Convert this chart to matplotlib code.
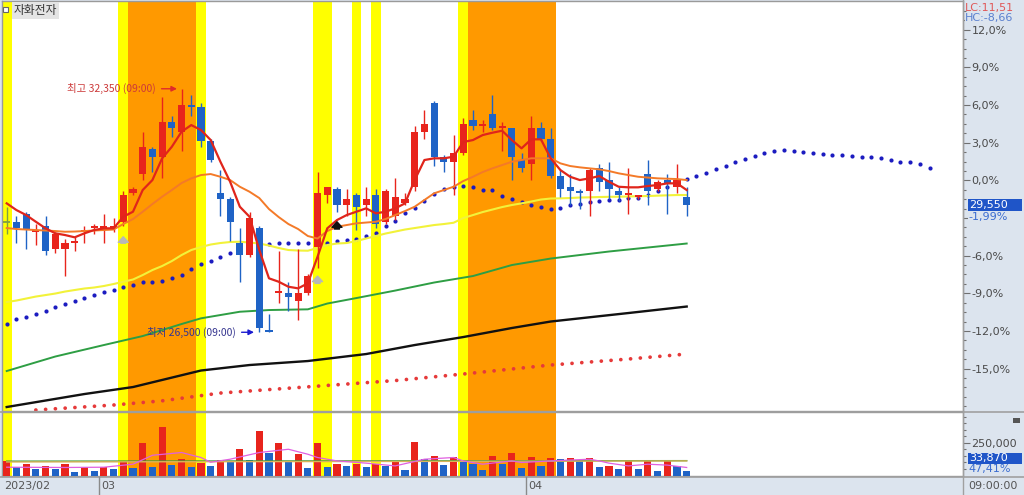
import numpy as np
import matplotlib
matplotlib.use("Agg")
import matplotlib.pyplot as plt
from matplotlib.patches import Rectangle
from matplotlib.lines import Line2D
from matplotlib.ticker import FixedLocator, FuncFormatter

# ---------------- data ----------------
base_price = 30150          # previous close (0.0% line)
last_close_label = "29,550"
last_pct_label = "-1,99%"
last_vol_label = "33,870"
vol_pct_label = "47,41%"
stock_name = "자화전자"
hi_label = "최고 32,350 (09:00)"
lo_label = "최저 26,500 (09:00)"
date_labels = ["2023/02", "03", "04"]
month_start_idx = [10, 54]

opens = [29150, 29150, 29350, 28900, 29050, 28500, 28500, 28650, 28900, 29000,
         28950, 29000, 29150, 29850, 30300, 30900, 30700, 31550, 31300, 31950,
         31900, 31100, 29850, 29700, 28650, 28350, 29000, 26550, 27450, 27450,
         27250, 27450, 28550, 29800, 29950, 29550, 29800, 29550, 29800, 29150,
         29300, 29600, 30000, 31300, 32000, 30700, 30600, 30800, 31600, 31450,
         31750, 31400, 31400, 30650, 30550, 31400, 31150, 30250, 30000, 29900,
         29900, 30450, 30150, 29900, 29800, 29750, 30300, 29950, 30150, 30000,
         29750]
highs = [29500, 29300, 29400, 29100, 29300, 28900, 28750, 28800, 29050, 29100,
         29350, 29250, 29900, 30000, 31300, 30950, 32150, 31700, 32350, 32200,
         32000, 31150, 30400, 29750, 29000, 29400, 29050, 26950, 28450, 27700,
         28500, 27900, 30350, 30000, 30000, 29950, 29850, 30000, 29950, 29950,
         30200, 29850, 31450, 31850, 32050, 30750, 31250, 31650, 31850, 31600,
         32200, 31550, 31400, 30800, 31700, 31550, 31400, 30400, 30300, 29950,
         30450, 30550, 30600, 30000, 30450, 29800, 30650, 30150, 30300, 30550,
         30000]
lows = [28850, 28650, 28500, 28600, 28350, 28400, 27850, 28450, 28650, 28850,
        28650, 28900, 29050, 29800, 30150, 30350, 30200, 31200, 30850, 31700,
        30950, 30600, 29300, 28700, 27700, 28300, 26500, 26500, 27200, 27000,
        26800, 27400, 28050, 29600, 29400, 29300, 28950, 29300, 29000, 29100,
        29200, 29550, 29900, 31150, 30500, 30350, 29800, 30750, 31350, 31300,
        31350, 30850, 30150, 30350, 30150, 31100, 30200, 29750, 29550, 29450,
        29300, 29900, 29700, 29650, 29350, 29700, 29550, 29900, 29350, 29850,
        29300]
closes = [29150, 29000, 28950, 28950, 28450, 28850, 28650, 28700, 28950, 29050,
          29050, 29050, 29800, 29950, 30950, 30700, 31550, 31400, 31950, 31900,
          31100, 30650, 29700, 29150, 28350, 29250, 26600, 26500, 27500, 27350,
          27450, 27850, 29850, 30000, 29550, 29700, 29500, 29700, 29100, 29900,
          29750, 29700, 31300, 31500, 30700, 30600, 30800, 31500, 31450, 31500,
          31400, 31450, 30700, 30450, 31400, 31150, 30250, 29950, 29900, 29850,
          30400, 30100, 29950, 29800, 29850, 29800, 29900, 30100, 30050, 30150,
          29550]

ma_red = [29597, 29436, 29316, 29155, 28997, 28877, 28836, 28781, 28877, 28956,
          28997, 28997, 29275, 29396, 29917, 30157, 30679, 30957, 31318, 31478,
          31358, 31118, 30597, 30116, 29516, 29275, 28476, 27796, 27714, 27594,
          27555, 27676, 28315, 28997, 29196, 29316, 29396, 29477, 29357, 29396,
          29477, 29597, 30157, 30638, 30679, 30679, 30717, 31070, 31118, 31238,
          31294, 31342, 31118, 30919, 31135, 31135, 30679, 30397, 30236, 30157,
          30198, 30253, 30116, 29996, 29982, 29982, 30013, 30037, 30078, 30078,
          29917]
ma_orange = [29004, 28980, 28968, 28956, 28944, 28932, 28915, 28920, 28932, 28944,
             28956, 28968, 29100, 29220, 29396, 29581, 29756, 29917, 30085, 30198,
             30277, 30301, 30236, 30157, 29996, 29876, 29725, 29460, 29268, 29100,
             28980, 28812, 28752, 28932, 29035, 29076, 29117, 29136, 29155, 29220,
             29316, 29412, 29516, 29677, 29838, 29917, 29996, 30133, 30236, 30349,
             30438, 30517, 30597, 30638, 30679, 30679, 30679, 30558, 30494, 30462,
             30438, 30414, 30373, 30318, 30277, 30236, 30217, 30198, 30189, 30181,
             30157]
ma_yellow = [27226, 27262, 27310, 27358, 27394, 27430, 27478, 27515, 27551, 27575,
             27611, 27659, 27714, 27767, 27875, 27995, 28091, 28211, 28355, 28476,
             28548, 28608, 28644, 28668, 28675, 28656, 28632, 28584, 28524, 28476,
             28464, 28459, 28524, 28596, 28632, 28644, 28692, 28752, 28812, 28872,
             28920, 28968, 29004, 29040, 29076, 29100, 29131, 29244, 29316, 29388,
             29448, 29508, 29557, 29597, 29641, 29689, 29713, 29717, 29725, 29737,
             29742, 29749, 29754, 29756, 29763, 29768, 29773, 29782, 29790, 29797,
             29797]
green_idx = [0, 5, 10, 14, 18, 20, 24, 27, 31, 33, 36, 40, 44, 48, 52, 56, 62, 70]
ma_green = [25569, 25917, 26193, 26409, 26698, 26835, 26993, 27034, 27051, 27190,
            27322, 27502, 27695, 27851, 28115, 28271, 28440, 28632]
black_idx = [0, 8, 13, 20, 25, 31, 37, 42, 47, 52, 56, 64, 70]
ma_black = [24704, 25016, 25184, 25581, 25713, 25809, 25977, 26193, 26385, 26602,
            26758, 26962, 27118]
reddot_idx = [3, 7, 11, 16, 22, 31, 40, 47, 56, 64, 70]
ma_reddot = [24632, 24692, 24752, 24853, 25040, 25189, 25340, 25497, 25713, 25857,
             25977]
blue_dots = [26690, 26811, 26873, 26938, 27017, 27099, 27185, 27257, 27322, 27387,
             27459, 27515, 27587, 27635, 27707, 27714, 27723, 27810, 27882, 28012,
             28139, 28218, 28314, 28411, 28476, 28548, 28596, 28612, 28651, 28651,
             28651, 28651, 28651, 28651, 28692, 28709, 28747, 28812, 28891, 29052,
             29165, 29357, 29477, 29660, 29821, 29941, 29996, 30013, 29982, 29917,
             29917, 29780, 29701, 29629, 29557, 29501, 29460, 29497, 29557, 29593,
             29633, 29657, 29677, 29689, 29720, 29732, 29797, 29893, 29989, 30085,
             30174, 30253, 30333, 30421, 30506, 30590, 30674, 30746, 30806, 30854,
             30878, 30866, 30842, 30818, 30794, 30770, 30758, 30746, 30722, 30710,
             30686, 30638, 30597, 30582, 30542, 30453]

volumes = [112000, 67000, 92000, 49000, 74000, 49000, 92000, 29000, 67000, 36000,
           67000, 49000, 112000, 57000, 246000, 62000, 373000, 80000, 125000, 62000,
           95000, 70000, 120000, 100000, 206000, 117000, 337000, 170000, 246000, 112000,
           163000, 57000, 246000, 62000, 87000, 74000, 87000, 62000, 92000, 74000,
           105000, 44000, 259000, 130000, 150000, 80000, 145000, 100000, 87000, 44000,
           150000, 87000, 170000, 57000, 142000, 70000, 133000, 125000, 135000, 117000,
           135000, 62000, 70000, 49000, 110000, 49000, 110000, 36000, 110000, 72000,
           33870]
vol_colors = "rb" * 23 + "r" + "bbb" + "rb" * 10 + "b"
volma_pink_idx = [0, 6, 10, 13, 15, 18, 20, 21, 23, 26, 29, 31, 32, 34, 37, 40, 43,
                  46, 47, 49, 52, 53, 56, 60, 61, 62, 64, 66, 68, 70]
volma_pink = [64000, 62000, 64000, 87000, 155000, 176000, 138000, 102000, 125000,
              176000, 201000, 163000, 138000, 112000, 95000, 74000, 125000, 138000,
              112000, 87000, 112000, 100000, 112000, 125000, 112000, 95000, 74000,
              87000, 80000, 62000]
volma_green_idx = [0, 35, 70]
volma_green = [110000, 112000, 114000]
volma_khaki_idx = [0, 40, 70]
volma_khaki = [104000, 108000, 112000]

yellow_cols = [0, 12, 20, 32, 33, 36, 38, 47]
orange_ranges = [(13, 19), (48, 56)]
signal_idx = [12, 32, 34]
signal_base = [28640, 27675, 28980]
signal_top = [28795, 27850, 29155]
hi_idx, hi_price = 18, 32350
lo_idx, lo_price = 26, 26500

# ---------------- style / layout ----------------
W, H = 1024, 495
STRIP = "#dce4ee"
UP, DOWN, DOJI = "#e8241c", "#1f63c6", "#7f9f3f"
FONT = ["Liberation Sans Narrow", "DejaVu Sans"]
KFONT = ["Noto Sans CJK KR", "DejaVu Sans"]
plt.rcParams["font.family"] = FONT

fig = plt.figure(figsize=(W / 100, H / 100), dpi=100, facecolor=STRIP)


def fbox(x0, y0, x1, y1):
    return [x0 / W, 1 - y1 / H, (x1 - x0) / W, (y1 - y0) / H]


ax = fig.add_axes(fbox(2, 1, 963, 411))
axv = fig.add_axes(fbox(2, 412, 963, 476), sharex=ax)
for a in (ax, axv):
    a.set_facecolor("white")
    for s in a.spines.values():
        s.set_color("#9a9a9a")
        s.set_linewidth(1)

x_px0, x_step = 6.7, 9.714
ax.set_xlim((2 - x_px0) / x_step, (963 - x_px0) / x_step)
pct_lo, pct_hi = -18.38, 14.29
ax.set_ylim(base_price * (1 + pct_lo / 100), base_price * (1 + pct_hi / 100))
axv.set_ylim(-3000, 485000)

# highlight bands
for a in (ax, axv):
    for c in yellow_cols:
        a.axvspan(c - 0.5, c + 0.5, color="#ffff00", lw=0, zorder=0)
    for s, e in orange_ranges:
        a.axvspan(s - 0.5, e + 0.5, color="#ff9900", lw=0, zorder=0)

n = len(closes)
xs = np.arange(n)
o = np.array(opens); c = np.array(closes); h = np.array(highs); l = np.array(lows)
cols = [UP if cc > oo else (DOWN if cc < oo else DOJI) for oo, cc in zip(o, c)]

# long moving averages and dotted lines (behind candles)
ax.plot(reddot_idx, ma_reddot, color="#e63a3a", lw=2.7, ls=(0, (0.01, 2.6)),
        dash_capstyle="round", zorder=1)
ax.plot(np.arange(len(blue_dots)), blue_dots, ls="none", marker="o", ms=3.0,
        color="#1c1cc0", mec="none", zorder=1)
ax.plot(black_idx, ma_black, color="#111111", lw=1.7, zorder=2)
ax.plot(green_idx, ma_green, color="#2e9e44", lw=1.4, zorder=2)
ax.plot(xs, ma_yellow, color="#f2f23a", lw=1.5, zorder=2)

# candles
ax.vlines(xs, l, h, colors=cols, lw=1, zorder=3)
body = np.abs(c - o)
ax.bar(xs, np.where(body == 0, 1, body), bottom=np.minimum(o, c), width=0.74,
       color=cols, lw=0, zorder=3)
for i in range(n):
    if body[i] == 0:
        ax.hlines(o[i], i - 0.37, i + 0.37, color=cols[i], lw=1.3, zorder=3)

ax.plot(xs, ma_orange, color="#f47a28", lw=1.4, zorder=4)
ax.plot(xs, ma_red, color="#e0251b", lw=1.6, zorder=4)

# signal arrows
sig_cols = ["#b8b8b8", "#b8b8b8", "#111111"]
for si, sb, st, sc in zip(signal_idx, signal_base, signal_top, sig_cols):
    ax.annotate("", xy=(si, st), xytext=(si, sb),
                arrowprops=dict(arrowstyle="simple,head_length=0.5,head_width=0.9,tail_width=0.45",
                                color=sc, shrinkA=0, shrinkB=0, mutation_scale=8), zorder=5)

# high / low annotations
ax.annotate(hi_label, xy=(hi_idx - 0.47, hi_price), xytext=(-21, 0),
            textcoords="offset pixels", ha="right", va="center", fontsize=7.5,
            color="#cc3a3a", family=KFONT,
            arrowprops=dict(arrowstyle="-|>", color="#e02a2a", lw=1, shrinkA=2,
                            shrinkB=0, mutation_scale=8), zorder=6)
ax.annotate(lo_label, xy=(lo_idx - 0.54, lo_price), xytext=(-18, 0),
            textcoords="offset pixels", ha="right", va="center", fontsize=7.5,
            color="#35358f", family=KFONT,
            arrowprops=dict(arrowstyle="-|>", color="#1c1cd0", lw=1, shrinkA=2,
                            shrinkB=0, mutation_scale=8), zorder=6)

# volume panel
vcol = [UP if ch == "r" else DOWN for ch in vol_colors]
axv.bar(xs, volumes, width=0.74, color=vcol, lw=0, zorder=3)
axv.plot(volma_green_idx, volma_green, color="#3a9a3a", lw=1, zorder=4)
axv.plot(volma_khaki_idx, volma_khaki, color="#d8b45a", lw=1, zorder=4)
axv.plot(volma_pink_idx, volma_pink, color="#e060e0", lw=0.9, zorder=4)

# y axes on the right
def pct_fmt(v, pos):
    p = (v / base_price - 1) * 100
    if abs(p + 3) < 0.01:
        return ""
    return f"{p:.1f}%".replace(".", ",")

major_pct = [-15, -12, -9, -6, -3, 0, 3, 6, 9, 12]
minor_pct = [p * 0.75 for p in range(-24, 19)]
ax.yaxis.tick_right()
ax.yaxis.set_major_locator(FixedLocator([base_price * (1 + p / 100) for p in major_pct]))
ax.yaxis.set_minor_locator(FixedLocator([base_price * (1 + p / 100) for p in minor_pct]))
ax.yaxis.set_major_formatter(FuncFormatter(pct_fmt))
axv.yaxis.tick_right()
axv.yaxis.set_major_locator(FixedLocator([250000]))
axv.yaxis.set_minor_locator(FixedLocator([50000, 100000, 150000, 200000, 300000, 350000, 400000, 450000]))
axv.yaxis.set_major_formatter(FuncFormatter(lambda v, p: f"{int(v):,}"))
for a in (ax, axv):
    a.tick_params(axis="y", which="major", direction="out", length=5, width=0.8,
                  color="#707070", labelsize=8, labelcolor="#4a4a4a", pad=1)
    a.tick_params(axis="y", which="minor", direction="out", length=2.5, width=0.8,
                  color="#707070")
    a.tick_params(axis="x", which="both", bottom=False, labelbottom=False)

# separators
fig.add_artist(Line2D([0, 1], [1 - 411.5 / H] * 2, color="#a0a0a0", lw=1.2))
fig.add_artist(Line2D([0, 1], [1 - 476.5 / H] * 2, color="#a0a0a0", lw=1.2))
fig.add_artist(Line2D([963 / W] * 2, [0, 1], color="#a0a0a0", lw=1))
for mi in month_start_idx:
    xd = ax.transData.transform((mi - 0.5, 0))[0] / W
    fig.add_artist(Line2D([xd, xd], [0, 1 - 476.5 / H], color="#8a8a8a", lw=1))

# date labels
fig.text(4 / W, 1 - 486 / H, date_labels[0], fontsize=8, color="#555", va="center")
for lab, mi in zip(date_labels[1:], month_start_idx):
    xd = ax.transData.transform((mi - 0.5, 0))[0]
    fig.text((xd + 2) / W, 1 - 486 / H, lab, fontsize=8, color="#555", va="center")
fig.text(968 / W, 1 - 486 / H, "09:00:00", fontsize=8, color="#555", va="center")

# right-strip labels
fig.text(965 / W, 1 - 8 / H, "LC:11,51", fontsize=8, color="#e05858", va="center")
fig.text(965 / W, 1 - 18.5 / H, "HC:-8,66", fontsize=8, color="#5a80cf", va="center",
         bbox=dict(fc=STRIP, ec="none", pad=0.3))
yc = ax.transData.transform((0, closes[-1]))[1]
fig.add_artist(Rectangle((968 / W, (yc - 6) / H), 54 / W, 12 / H, fc="#1f55c8", ec="none",
                         transform=fig.transFigure))
fig.text(969 / W, yc / H, last_close_label, fontsize=8, color="white", va="center")
fig.text(968 / W, (yc - 11.5) / H, last_pct_label, fontsize=8, color="#3a6cd0", va="center",
         bbox=dict(fc=STRIP, ec="none", pad=0.3))
fig.add_artist(Rectangle((968 / W, 1 - 464 / H), 54 / W, 11 / H, fc="#1f55c8", ec="none",
                         transform=fig.transFigure))
fig.text(969 / W, 1 - 458.5 / H, last_vol_label, fontsize=8, color="white", va="center")
fig.text(968 / W, 1 - 469 / H, vol_pct_label, fontsize=8, color="#3a6cd0", va="center",
         bbox=dict(fc=STRIP, ec="none", pad=0.2))
fig.add_artist(Rectangle((1013 / W, 1 - 423 / H), 7 / W, 5 / H, fc="#555555", ec="none",
                         transform=fig.transFigure))

# title box
fig.add_artist(Rectangle((3 / W, 1 - 12 / H), 5 / W, 5 / H, fc="white", ec="#666666",
                         lw=0.8, transform=fig.transFigure))
fig.text(14 / W, 1 - 10.5 / H, stock_name, fontsize=8.5, color="#333333", va="center",
         family=KFONT, bbox=dict(fc="#e4e4e4", ec="none", pad=1.2))

fig.savefig("out.png", dpi=100, facecolor=STRIP)
